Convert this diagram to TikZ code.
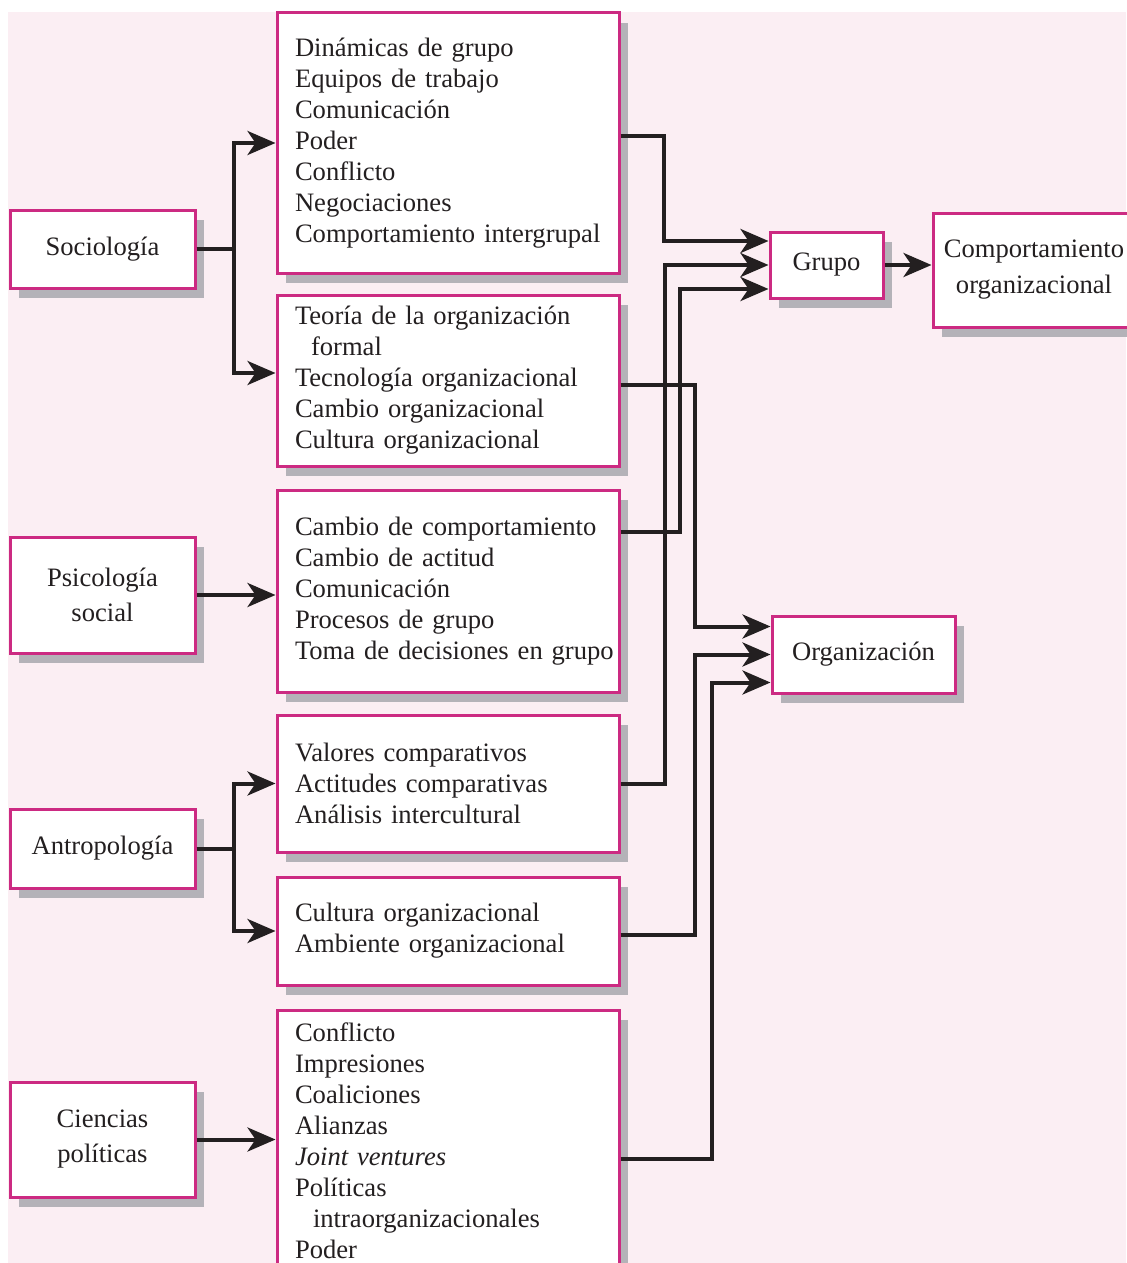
\documentclass[tikz,border=0pt]{standalone}
\usepackage{fontspec}
\setmainfont{Liberation Serif}
\usetikzlibrary{arrows.meta,shadows}
\definecolor{bg}{HTML}{FBEEF3}
\definecolor{mag}{HTML}{CC2A82}
\definecolor{shd}{HTML}{B4B2B8}
\definecolor{ink}{HTML}{231F20}
\begin{document}
\begin{tikzpicture}[x=0.5pt,y=-0.5pt,
 box/.style={draw=mag, line width=1.5pt, fill=white, inner sep=0pt, text=ink,
   drop shadow={shadow xshift=4.5pt, shadow yshift=-5pt, fill=shd, opacity=1}},
 listbox/.style={box, text width=153pt, inner xsep=9pt, align=left,
   font=\fontsize{13.3pt}{15.5pt}\selectfont},
 srcbox/.style={box, minimum width=92.5pt, align=center,
   font=\fontsize{13.3pt}{17.5pt}\selectfont},
 tgtbox/.style={box, align=center, font=\fontsize{13.3pt}{18pt}\selectfont},
 conn/.style={draw=ink, line width=2pt},
 arr/.style={conn, -{Stealth[length=14pt,width=12pt,inset=4pt]}}
]
\fill[white] (0,0) rectangle (1126,1263);
\fill[bg] (8,12) rectangle (1126,1263);
\useasboundingbox (0,0) rectangle (1126,1263);

% middle column
\node[listbox, minimum height=130pt] (b1) at (448,143)
 {Dinámicas de grupo\\Equipos de trabajo\\Comunicación\\Poder\\Conflicto\\Negociaciones\\\mbox{Comportamiento intergrupal}};
\node[listbox, minimum height=85.5pt] (b2) at (448,380.5)
 {\mbox{Teoría de la organización}\\\hspace*{8pt}formal\\\mbox{Tecnología organizacional}\\\mbox{Cambio organizacional}\\\mbox{Cultura organizacional}};
\node[listbox, minimum height=101pt] (b3) at (448,591)
 {\mbox{Cambio de comportamiento}\\Cambio de actitud\\Comunicación\\Procesos de grupo\\\mbox{Toma de decisiones en grupo}};
\node[listbox, minimum height=68.5pt] (b4) at (448,783.5)
 {\mbox{Valores comparativos}\\\mbox{Actitudes comparativas}\\\mbox{Análisis intercultural}};
\node[listbox, minimum height=54pt] (b5) at (448,931)
 {\mbox{Cultura organizacional}\\\mbox{Ambiente organizacional}};
\node[listbox, minimum height=131pt] (b6) at (448,1141)
 {Conflicto\\Impresiones\\Coaliciones\\Alianzas\\\textit{Joint ventures}\\Políticas\\\hspace*{9pt}\mbox{intraorganizacionales}\\Poder};

% left column
\node[srcbox, minimum height=39pt] (soc) at (102.5,249) {Sociología};
\node[srcbox, minimum height=58pt] (psi) at (102.5,595) {Psicología\\social};
\node[srcbox, minimum height=39.5pt] (ant) at (102.5,848.5) {Antropología};
\node[srcbox, minimum height=57.5pt] (cp) at (102.5,1139.5) {Ciencias\\políticas};

% right column
\node[tgtbox, minimum width=56.5pt, minimum height=33pt] (grupo) at (826.5,265) {Grupo};
\node[tgtbox, minimum width=91.5pt, minimum height=38.5pt] (org) at (863.5,654.5) {Organización};
\node[tgtbox, minimum width=101pt, minimum height=57pt] (comp) at (1034,270) {Comportamiento\\organizacional};

% connectors from disciplines
\draw[arr] (soc.east) -- ++(37,0) |- (b1.west);
\draw[arr] (soc.east) -- ++(37,0) |- ([yshift=3.75pt]b2.west);
\draw[arr] (psi.east) -- (psi.east -| b3.west);
\draw[arr] (ant.east) -- ++(37,0) |- (b4.west);
\draw[arr] (ant.east) -- ++(37,0) |- (b5.west);
\draw[arr] (cp.east) -- (cp.east -| b6.west);

% connectors to Grupo
\draw[arr] ([yshift=3.5pt]b1.east) -- ++(43,0) |- ([yshift=12pt]grupo.west);
\draw[arr] (b4.east) -- ++(44,0) |- (grupo.west);
\draw[arr] ([yshift=29.5pt]b3.east) -- ++(59,0) |- ([yshift=-12pt]grupo.west);

% connectors to Organizacion
\draw[arr] ([yshift=-2.25pt]b2.east) -- ++(74,0) |- ([yshift=14pt]org.west);
\draw[arr] ([yshift=-2pt]b5.east) -- ++(74,0) |- (org.west);
\draw[arr] ([yshift=-9pt]b6.east) -- ++(91,0) |- ([yshift=-14pt]org.west);

\draw[arr] (grupo.east) -- (grupo.east -| comp.west);
\end{tikzpicture}
\end{document}
